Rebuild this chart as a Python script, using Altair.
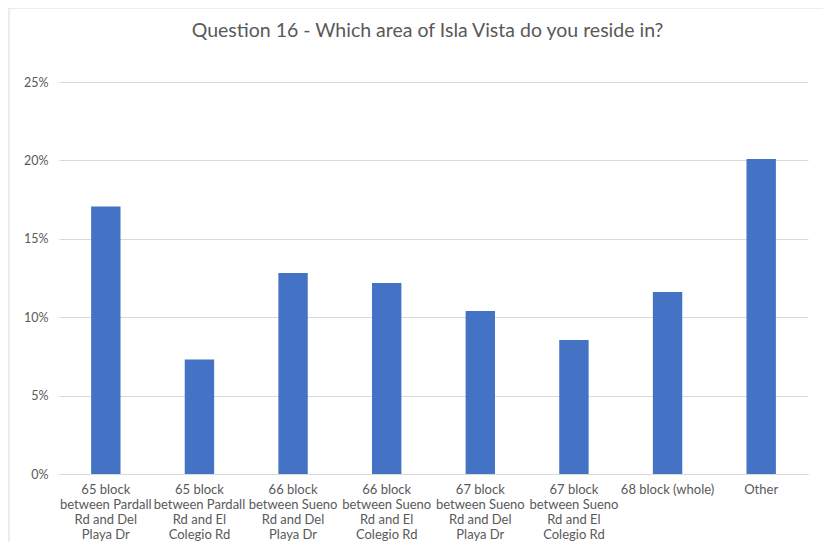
import altair as alt
import pandas as pd

categories = [
    "65 block|between Pardall|Rd and Del|Playa Dr",
    "65 block|between Pardall|Rd and El|Colegio Rd",
    "66 block|between Sueno|Rd and Del|Playa Dr",
    "66 block|between Sueno|Rd and El|Colegio Rd",
    "67 block|between Sueno|Rd and Del|Playa Dr",
    "67 block|between Sueno|Rd and El|Colegio Rd",
    "68 block (whole)",
    "Other",
]
shares = [0.1706, 0.0730, 0.1282, 0.1218, 0.1040, 0.0855, 0.1160, 0.2009]
y_ticks = [0, 0.05, 0.10, 0.15, 0.20, 0.25]
title_text = "Question 16 - Which area of Isla Vista do you reside in?"

df = pd.DataFrame({"area": categories, "share": shares})

FONT = "Lato"
TEXT = "#595959"
GRID = "#d9d9d9"

bars = alt.Chart(df).mark_bar(color="#4472C4").encode(
    x=alt.X(
        "area:N",
        sort=None,
        title=None,
        scale=alt.Scale(paddingInner=0.686, paddingOuter=0.343),
        axis=alt.Axis(
            labelExpr="split(datum.label, '|')",
            labelAngle=0,
            labelFont=FONT,
            labelFontSize=13,
            labelColor=TEXT,
            labelLineHeight=15,
            labelPadding=9,
            labelLimit=200,
            ticks=False,
            domainColor=GRID,
            grid=False,
        ),
    ),
    y=alt.Y(
        "share:Q",
        title=None,
        scale=alt.Scale(domain=[0, 0.25], nice=False),
        axis=alt.Axis(
            values=y_ticks,
            format=".0%",
            labelFont=FONT,
            labelFontSize=12.5,
            labelColor=TEXT,
            labelPadding=11,
            ticks=False,
            domain=False,
            gridColor=GRID,
        ),
    ),
)

title_mark = alt.Chart(df.head(1)).mark_text(
    font=FONT, fontSize=19.5, color=TEXT, align="center", baseline="middle", clip=False
).encode(
    text=alt.value(title_text), x=alt.value(368.5), y=alt.value(-51)
)

border_top = alt.Chart(df.head(1)).mark_rule(color=GRID, clip=False, strokeWidth=1).encode(
    x=alt.value(-50), x2=alt.value(770), y=alt.value(-74)
)
border_left = alt.Chart(df.head(1)).mark_rule(color=GRID, clip=False, strokeWidth=1).encode(
    x=alt.value(-50), y=alt.value(-74), y2=alt.value(470)
)

chart = alt.layer(border_top, border_left, bars, title_mark).properties(
    width=749,
    height=392,
    autosize=alt.AutoSizeParams(type="none"),
    padding={"left": 51, "top": 74, "right": 15, "bottom": 68},
).configure_view(stroke=None)

chart.save("out.html", embed_options={"renderer": "svg", "actions": False})
